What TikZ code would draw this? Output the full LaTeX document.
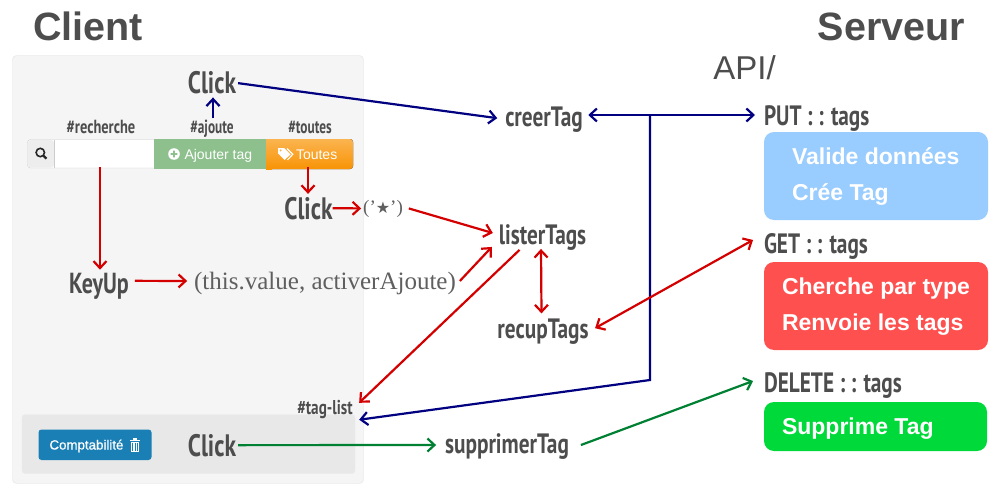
\documentclass[tikz,border=0pt]{standalone}
\usepackage{fontspec}
\setmainfont{Liberation Sans}
\newfontfamily\din[FakeStretch=0.76]{PT Sans}
\newfontfamily\dinn[FakeStretch=0.7]{PT Sans}
\newfontfamily\serifx{Liberation Serif}
\newfontfamily\djv{DejaVu Sans}
\newfontfamily\fakeb[FakeBold=0.6]{Liberation Sans}
\usetikzlibrary{arrows.meta,calc}
\definecolor{ink}{HTML}{4D4D4D}
\definecolor{redl}{HTML}{D40000}
\definecolor{navyl}{HTML}{000080}
\definecolor{greenl}{HTML}{008033}
\definecolor{btngreen}{HTML}{8DC08C}
\definecolor{orangetop}{HTML}{FBB450}
\definecolor{orangebot}{HTML}{F89406}
\definecolor{btnblue}{HTML}{1A7FB5}
\definecolor{srvblue}{HTML}{99CCFF}
\definecolor{srvred}{HTML}{FF5050}
\definecolor{srvgreen}{HTML}{00D93A}
\tikzset{
  x=1pt,y=-1pt,
  every node/.style={inner sep=0pt,outer sep=0pt},
  head/.style={font=\fontsize{39.5}{40}\selectfont\bfseries,text=ink,anchor=base},
  lab/.style={font=\din\bfseries\fontsize{31}{31}\selectfont,text=ink,anchor=base},
  mid/.style={font=\din\bfseries\fontsize{28}{28}\selectfont,text=ink,anchor=base},
  sml/.style={font=\din\bfseries\fontsize{19}{19}\selectfont,text=ink,anchor=base},
  smln/.style={font=\dinn\bfseries\fontsize{19}{19}\selectfont,text=ink,anchor=base},
  ser/.style={font=\serifx\fontsize{25}{25}\selectfont,text=ink!90,anchor=base},
  btn/.style={font=\fontsize{14}{14}\selectfont,text=white,anchor=base west},
  srv/.style={font=\fontsize{23}{23}\selectfont\bfseries,text=white,anchor=base west},
  barb/.tip={Straight Barb[length=7pt,width=13pt,line width=2.2pt]},
  arr/.style={line width=2.2pt,-barb},
  dbl/.style={line width=2.2pt,barb-barb},
  redarr/.style={draw=redl},navyarr/.style={draw=navyl},grnarr/.style={draw=greenl},
  srvbox/.style={rounded corners=10pt},
}
\begin{document}
\begin{tikzpicture}
\useasboundingbox (0,0) rectangle (1000,500);
\fill[white] (0,0) rectangle (1000,500);
% panels
\draw[fill=black!4,draw=black!11,rounded corners=4pt] (12.5,55.5) rectangle (363.5,483.5);
\draw[fill=black!9,draw=black!7,rounded corners=3pt] (22,414.5) rectangle (355,473.5);
% input group
\draw[draw=black!20,fill=white,rounded corners=3pt] (27.5,139.5) rectangle (353,168);
\fill[black!7,rounded corners=3pt] (28,140) rectangle (54,167.5);
\draw[black!20] (54.5,140)--(54.5,168);
\fill[btngreen] (154,139) rectangle (266,169);
\fill[top color=orangetop,bottom color=orangebot,rounded corners=3pt] (266,139) rectangle (353,169);
\fill[top color=orangetop,bottom color=orangebot] (266,139) rectangle (272,169);
% search icon
\draw[black!85,line width=1.6pt] (40.3,152.5) circle (4.2);
\draw[black!85,line width=2.2pt] (43.5,155.7)--(46.5,158.7);
% plus icon
\fill[white] (174,154) circle (5.8);
\fill[btngreen] (170.6,153.2) rectangle (177.4,154.8) (173.2,150.6) rectangle (174.8,157.4);
% tag icon
\fill[white] (278,148) -- (284,148) -- (290.5,154.5) -- (284.5,160) -- (278,153.5) -- cycle;
\draw[white,line width=1.1pt] (287,148.5) -- (292.8,154.3) -- (287.5,160);
\fill[orangetop] (280.6,150.4) circle (1.1);
% buttons texts
\node[btn] (ajoutebtn) at (184.5,159) {Ajouter tag};
\node[btn] (toutesbtn) at (296,159) {Toutes};
% comptabilite
\fill[btnblue,rounded corners=3pt] (38.5,429.5) rectangle (151.5,460);
\node[btn,font=\fakeb\fontsize{13.3}{13}\selectfont] (compta) at (49.5,449.5) {Comptabilité};
\fill[white] (130.5,441.5) rectangle (139,451.5);
\fill[white] (129.5,439.6) rectangle (140,440.8);
\fill[white] (133,438) rectangle (136.6,439.6);
\draw[btnblue,line width=.6pt] (132.7,442.5)--(132.7,450.5) (134.8,442.5)--(134.8,450.5) (136.9,442.5)--(136.9,450.5);
% headings
\node[head] (client) at (88,41) {Client};
\node[head] (serveur) at (891.5,41) {Serveur};
\node[anchor=base,font=\fontsize{33}{33}\selectfont,text=ink] (api) at (744.5,80) {API/};
% labels
\node[lab] (click1) at (212,94) {Click};
\node[lab] (click2) at (308.5,219) {Click};
\node[lab] (click3) at (212,456) {Click};
\node[lab,font=\din\bfseries\fontsize{29}{29}\selectfont] (keyup) at (99,293) {KeyUp};
\node[sml] (recherche) at (101,133) {\#recherche};
\node[smln] (ajoute) at (212,133) {\#ajoute};
\node[smln] (toutes) at (310,133) {\#toutes};
\node[sml,font=\din\bfseries\fontsize{20}{20}\selectfont] (taglist) at (325,414) {\#tag-list};
\node[mid] (creer) at (544,127) {creerTag};
\node[mid] (lister) at (542.5,244) {listerTags};
\node[mid] (recup) at (543,338) {recupTags};
\node[mid] (suppr) at (507,453) {supprimerTag};
\node[mid,anchor=base west] (put) at (764,125) {PUT : : tags};
\node[mid,anchor=base west] (get) at (764,253) {GET : : tags};
\node[mid,anchor=base west] (del) at (764,392) {DELETE : : tags};
\node[ser,font=\djv\fontsize{16}{16}\selectfont] (star) at (383,213) {{\serifx\fontsize{19}{19}\selectfont(’}★{\serifx\fontsize{19}{19}\selectfont’)}};
\node[ser] (params) at (325,289) {(this.value, activerAjoute)};
% server boxes
\fill[srvblue,srvbox] (764,132) rectangle (988,220);
\node[srv] (v1) at (792,164) {Valide données};
\node[srv] (v2) at (792,200) {Crée Tag};
\fill[srvred,srvbox] (764,262) rectangle (988,350);
\node[srv] (c1) at (782,294) {Cherche par type};
\node[srv] (c2) at (782,330) {Renvoie les tags};
\fill[srvgreen,srvbox] (764,402) rectangle (987,451);
\node[srv] (s1) at (782,434) {Supprime Tag};
% connectors
\coordinate (branch) at (650,115);
\coordinate (elbow) at (650,380);
\draw[arr,navyarr] ([shift={(2,0)}]click1.east) -- ([shift={(-8,-2)}]creer.west);
\draw[arr,navyarr] ([shift={(1,-1)}]ajoute.north) -- ([shift={(1,3)}]click1.south);
\draw[dbl,navyarr] ([xshift=5.5pt]creer.east |- branch) -- ([xshift=-9pt]put.west |- branch);
\draw[arr,navyarr,line join=miter] (branch) -- (elbow) -- ([shift={(6.5,1.5)}]taglist.south east);
\draw[arr,redarr] ([shift={(-2,34)}]toutes.south) -- ([shift={(-0.5,-3)}]click2.north);
\draw[arr,redarr] (click2.east) -- ([shift={(-2,0)}]star.west);
\draw[arr,redarr] ([shift={(6,0)}]star.east) -- ([shift={(-6,-4)}]lister.west);
\draw[arr,redarr] ([shift={(-1,34)}]recherche.south) -- ([shift={(1,-3)}]keyup.north);
\draw[arr,redarr] ([shift={(6,-5)}]keyup.east) -- ([shift={(-7,-2)}]params.west);
\draw[arr,redarr] ([shift={(4,-2)}]params.east) -- ([shift={(-7,-3)}]lister.south west);
\draw[arr,redarr] ([shift={(-23,0)}]lister.south) -- ([shift={(6.5,3)}]taglist.north east);
\draw[dbl,redarr] ([shift={(-1.5,-1)}]lister.south) -- ([shift={(-1.5,-5)}]recup.north);
\draw[dbl,redarr] ([shift={(6.5,-3)}]recup.east) -- ([shift={(-11,-6)}]get.west);
\draw[arr,grnarr] ([shift={(2,0)}]click3.east) -- ([shift={(-9,-1)}]suppr.west);
\draw[arr,grnarr] ([shift={(12,-1)}]suppr.east) -- ([shift={(-11,-4)}]del.west);
\end{tikzpicture}
\end{document}
